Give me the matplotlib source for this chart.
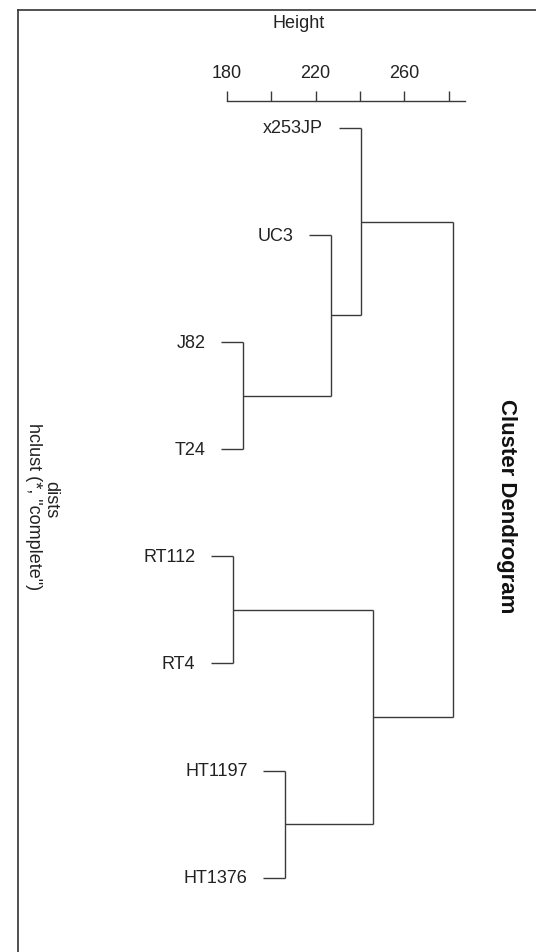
import matplotlib
matplotlib.use("Agg")
import matplotlib.pyplot as plt
from matplotlib.lines import Line2D

# Data: R-style hclust result (negative = leaf, positive = earlier merge)
labels = ["x253JP", "UC3", "J82", "T24", "RT112", "RT4", "HT1197", "HT1376"]
merge_left = [-5, -3, -7, -2, -1, 1, 5]
merge_right = [-6, -4, -8, 2, 4, 3, 6]
merge_height = [182.7, 187.5, 206.3, 226.8, 240.4, 246.0, 281.8]
tick_values = [180, 200, 220, 240, 260, 280]
tick_labels = ["180", "", "220", "", "260", ""]

plt.rcParams['font.family'] = ['Liberation Sans', 'DejaVu Sans']
line_col = '#3a3a3a'
text_col = '#222222'

fig = plt.figure(figsize=(5.36, 9.53), dpi=100)
ax = fig.add_axes([0, 0, 1, 1])
ax.set_xlim(77.9, 319.3)
ax.set_ylim(8.694, -0.204)

# leaf order via recursion (like R's hclust order)
def leaves_of(node):
    if node < 0:
        return [-node]
    i = node - 1
    return leaves_of(merge_left[i]) + leaves_of(merge_right[i])

order = leaves_of(len(merge_height))
leaf_pos = {leaf: k + 1 for k, leaf in enumerate(order)}
hang = 0.1 * (max(merge_height) - min(merge_height))

node_pos = {}
for i in range(len(merge_height)):
    h = merge_height[i]
    ys = []
    for child in (merge_left[i], merge_right[i]):
        if child < 0:
            y = leaf_pos[-child]
            x0 = h - hang
            ax.text(x0 - 7, y, labels[-child - 1], ha='right', va='center',
                    fontsize=13, color=text_col)
        else:
            x0, y = merge_height[child - 1], node_pos[child]
        ax.plot([x0, h], [y, y], color=line_col, lw=1.0, solid_capstyle='butt')
        ys.append(y)
    ax.plot([h, h], ys, color=line_col, lw=1.0, solid_capstyle='butt')
    node_pos[i + 1] = sum(ys) / 2

# height axis at the top
for s in ['left', 'right', 'bottom']:
    ax.spines[s].set_visible(False)
ax.spines['top'].set_position(('data', 0.745))
ax.spines['top'].set_bounds(180, 287.3)
ax.spines['top'].set_color(line_col)
ax.spines['top'].set_linewidth(1.0)
ax.yaxis.set_visible(False)
ax.xaxis.tick_top()
ax.set_xticks(tick_values)
ax.set_xticklabels(tick_labels)
ax.tick_params(axis='x', direction='out', length=7.2, width=1.0, color=line_col,
               labelsize=13, labelcolor=text_col, pad=7)

fig.text(299 / 536, 1 - 24 / 953, "Height", ha='center', va='center',
         fontsize=13, color=text_col)
fig.text(507 / 536, 1 - 506 / 953, "Cluster Dendrogram", ha='center', va='center',
         rotation=270, fontsize=16, fontweight='bold', color='#111111')
fig.text(51 / 536, 1 - 500 / 953, "dists", ha='center', va='center',
         rotation=270, fontsize=13, color=text_col)
fig.text(33 / 536, 1 - 507 / 953, 'hclust (*, "complete")', ha='center', va='center',
         rotation=270, fontsize=13, color=text_col)

# frame lines of the original screenshot
fig.add_artist(Line2D([18 / 536, 1], [1 - 10.7 / 953] * 2, color='#333333', lw=1.2))
fig.add_artist(Line2D([18 / 536] * 2, [0, 1 - 10.7 / 953], color='#333333', lw=1.2))

fig.savefig("out.png", dpi=100)
